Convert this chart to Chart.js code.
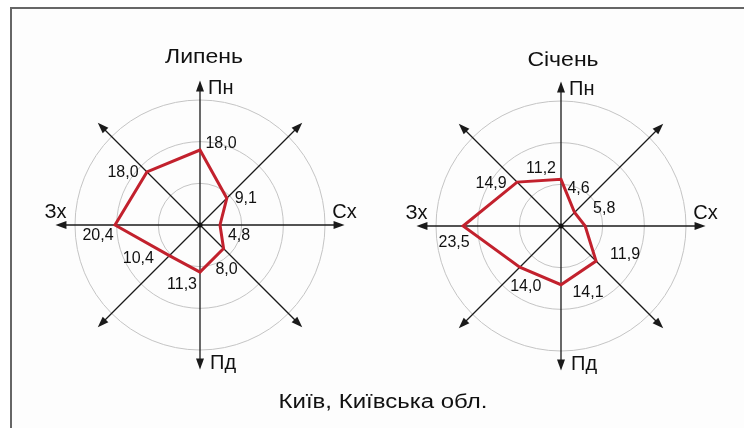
<!DOCTYPE html>
<html>
<head>
<meta charset="utf-8">
<script src="https://cdn.jsdelivr.net/npm/chart.js@4/dist/chart.umd.min.js"></script>
<style>
  html, body { margin: 0; padding: 0; background: #fff; }
  #page { position: relative; width: 744px; height: 428px; overflow: hidden; font-family: 'Liberation Sans', Arial, sans-serif; color: #111; }
  #frame { position: absolute; left: 10px; top: 7px; right: -5px; bottom: -5px; border-top: 2px solid #666; border-left: 2px solid #666; background: #fdfdfd; }
  canvas { position: absolute; top: 0; }
  .title { position: absolute; width: 200px; text-align: center; font-size: 20px; line-height: 24px; transform: scaleX(1.15); }
  #caption { position: absolute; left: 0; width: 766px; top: 389px; text-align: center; font-size: 20px; line-height: 24px; transform: scaleX(1.2); }
</style>
</head>
<body>
<div id="page">
  <div id="frame"></div>
  <canvas id="july" width="372" height="428" style="left:0"></canvas>
  <canvas id="january" width="372" height="428" style="left:372px"></canvas>
  <div class="title" style="left:104px; top:44px">Липень</div>
  <div class="title" style="left:463px; top:47px">Січень</div>
  <div id="caption">Київ, Київська обл.</div>
</div>
<script>
// wind directions, clockwise from north (blank ones are the diagonals)
const directions = ['Пн', '', 'Сх', '', 'Пд', '', 'Зх', ''];
// wind repeatability, %
const julyValues = [18.0, 9.1, 4.8, 8.0, 11.3, 10.4, 20.4, 18.0];
const januaryValues = [11.2, 4.6, 5.8, 11.9, 14.1, 14.0, 23.5, 14.9];
const ringTicks = [0, 10, 20, 30];

const FONT = "'Liberation Sans', Arial, sans-serif";

// draws the arrows, direction names, centre dot and value labels
const roseDecor = {
  id: 'roseDecor',
  beforeDatasetsDraw(chart) {
    const scale = chart.scales.r;
    const ctx = chart.ctx;
    const cx = scale.xCenter, cy = scale.yCenter;
    ctx.save();
    ctx.strokeStyle = '#1a1a1a';
    ctx.fillStyle = '#1a1a1a';
    ctx.lineWidth = 1.3;
    chart.data.labels.forEach((lab, i) => {
      const tip = scale.getPointPositionForValue(i, 34.7);
      const a = Math.atan2(tip.y - cy, tip.x - cx);
      ctx.beginPath();
      ctx.moveTo(cx, cy);
      ctx.lineTo(tip.x - Math.cos(a) * 6, tip.y - Math.sin(a) * 6);
      ctx.stroke();
      ctx.beginPath();
      ctx.moveTo(tip.x, tip.y);
      ctx.lineTo(tip.x - Math.cos(a) * 11 - Math.sin(a) * 4, tip.y - Math.sin(a) * 11 + Math.cos(a) * 4);
      ctx.lineTo(tip.x - Math.cos(a) * 11 + Math.sin(a) * 4, tip.y - Math.sin(a) * 11 - Math.cos(a) * 4);
      ctx.closePath();
      ctx.fill();
    });
    ctx.restore();
  },
  afterDatasetsDraw(chart, args, opts) {
    const scale = chart.scales.r;
    const ctx = chart.ctx;
    ctx.save();
    // centre dot
    ctx.fillStyle = '#111';
    ctx.beginPath();
    ctx.arc(scale.xCenter, scale.yCenter, 2.5, 0, Math.PI * 2);
    ctx.fill();

    // direction names next to the arrow tips
    ctx.font = '20px ' + FONT;
    ctx.textBaseline = 'middle';
    const place = { 0: [8, 8, 'left'], 2: [0, -13, 'center'], 4: [10, -6, 'left'], 6: [0, -13, 'center'] };
    chart.data.labels.forEach((lab, i) => {
      if (!lab) return;
      const tip = scale.getPointPositionForValue(i, 34.7);
      const p = place[i];
      ctx.textAlign = p[2];
      ctx.fillText(lab, tip.x + p[0], tip.y + p[1]);
    });

    // value labels
    ctx.font = '16px ' + FONT;
    ctx.textAlign = 'center';
    const meta = chart.getDatasetMeta(0);
    chart.data.datasets[0].data.forEach((v, i) => {
      const pt = meta.data[i];
      const off = opts.offsets[i];
      ctx.fillText(v.toFixed(1).replace('.', ','), pt.x + off[0], pt.y + off[1]);
    });
    ctx.restore();
  }
};

function makeRose(id, values, pad, offsets) {
  new Chart(document.getElementById(id), {
    type: 'radar',
    data: {
      labels: directions,
      datasets: [{
        data: values,
        borderColor: '#c2212d',
        borderWidth: 3,
        fill: false,
        pointRadius: 0,
        pointHoverRadius: 0,
        tension: 0
      }]
    },
    options: {
      responsive: false,
      animation: false,
      events: [],
      layout: { padding: pad },
      plugins: {
        legend: { display: false },
        tooltip: { enabled: false },
        roseDecor: { offsets: offsets }
      },
      scales: {
        r: {
          min: ringTicks[0],
          max: ringTicks[ringTicks.length - 1],
          afterBuildTicks(scale) {
            scale.ticks = ringTicks.map(v => ({ value: v }));
          },
          ticks: { display: false },
          pointLabels: { display: false },
          angleLines: { display: false },
          grid: { circular: true, color: '#c4c4c4', lineWidth: 1 }
        }
      }
    },
    plugins: [roseDecor]
  });
}

makeRose('july', julyValues,
  { left: 75, right: 47, top: 100, bottom: 78 },
  [[21, -6], [19, 0], [19, 11], [3, 21], [-18, 13], [-31, 3], [-17, 11], [-24, 1]]);

makeRose('january', januaryValues,
  { left: 64, right: 58, top: 101, bottom: 77 },
  [[-20, -11], [4, -24], [19, -17], [29, -6], [27, 8], [6, 19], [-9, 17], [-26, 1]]);
</script>
</body>
</html>
